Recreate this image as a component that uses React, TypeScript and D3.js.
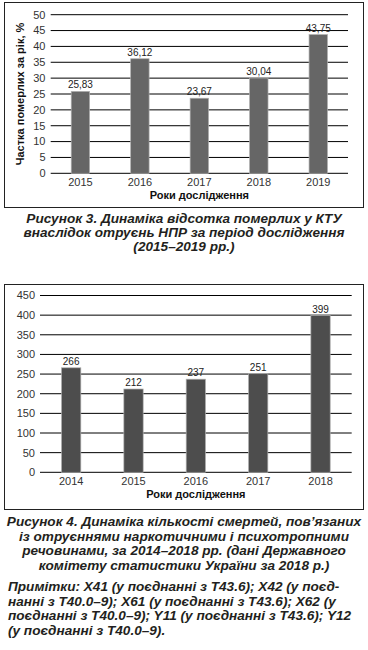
import React from "react";
import * as d3 from "d3";

// Рисунок 3
const years1 = ["2015", "2016", "2017", "2018", "2019"];
const share1 = [25.83, 36.12, 23.67, 30.04, 43.75];
const labels1 = ["25,83", "36,12", "23,67", "30,04", "43,75"];
const ticks1 = [0, 5, 10, 15, 20, 25, 30, 35, 40, 45, 50];

// Рисунок 4
const years2 = ["2014", "2015", "2016", "2017", "2018"];
const deaths2 = [266, 212, 237, 251, 399];
const ticks2 = [0, 50, 100, 150, 200, 250, 300, 350, 400, 450];

const caption1 = [
  "Рисунок 3. Динаміка відсотка померлих у КТУ",
  "внаслідок отруєнь НПР за період дослідження",
  "(2015–2019 рр.)",
];
const caption2 = [
  "Рисунок 4. Динаміка кількості смертей, пов’язаних",
  "із отруєннями наркотичними і психотропними",
  "речовинами, за 2014–2018 рр. (дані Державного",
  "комітету статистики України за 2018 р.)",
];
const notes = [
  "Примітки: X41 (у поєднанні з T43.6); X42 (у поєд-",
  "нанні з T40.0–9); X61 (у поєднанні з T43.6); X62 (у",
  "поєднанні з T40.0–9); Y11 (у поєднанні з T43.6); Y12",
  "(у поєднанні з T40.0–9).",
];

const FONT = "'Liberation Sans', Arial, sans-serif";
const TEXT = "#231f20";

type ChartProps = {
  cats: string[];
  values: number[];
  labels: string[];
  ticks: number[];
  max: number;
  left: number;
  right: number;
  top: number;
  bottom: number;
  tickX: number;
  barColor: string;
  yTitle?: string;
  yTitleX?: number;
};

const BarChart = (p: ChartProps) => {
  const x = d3
    .scaleBand<string>()
    .domain(p.cats)
    .range([p.left, p.right])
    .paddingInner(0.69)
    .paddingOuter(0.345);
  const y = d3.scaleLinear().domain([0, p.max]).range([p.bottom, p.top]);

  return (
    <g fontFamily={FONT}>
      {p.ticks.map((t) => (
        <g key={t}>
          <line x1={p.left} x2={p.right} y1={y(t)} y2={y(t)} stroke="#000" strokeWidth={1} />
          <text x={p.tickX} y={y(t)} dy="0.35em" textAnchor="end" fontSize={11} fill="#333">
            {t}
          </text>
        </g>
      ))}
      {p.values.map((v, i) => (
        <g key={p.cats[i]}>
          <rect
            x={x(p.cats[i])}
            y={y(v)}
            width={x.bandwidth()}
            height={p.bottom - y(v)}
            fill={p.barColor}
            stroke="#b0b0b0"
            strokeWidth={0.7}
          />
          <text
            x={(x(p.cats[i]) as number) + x.bandwidth() / 2}
            y={y(v) - 3}
            textAnchor="middle"
            fontSize={10}
            fill="#222"
          >
            {p.labels[i]}
          </text>
          <text
            x={(x(p.cats[i]) as number) + x.bandwidth() / 2}
            y={p.bottom + 13}
            textAnchor="middle"
            fontSize={11}
            fill="#333"
          >
            {p.cats[i]}
          </text>
        </g>
      ))}
      <text
        x={(p.left + p.right) / 2}
        y={p.bottom + 25.5}
        textAnchor="middle"
        fontSize={11}
        fontWeight="bold"
        fill="#111"
      >
        Роки дослідження
      </text>
      {p.yTitle && (
        <text
          transform={`translate(${p.yTitleX},${(p.top + p.bottom) / 2}) rotate(-90)`}
          textAnchor="middle"
          dy="0.35em"
          fontSize={11}
          fontWeight="bold"
          fill="#111"
        >
          {p.yTitle}
        </text>
      )}
    </g>
  );
};

const Lines = ({ lines, x, y0, step, anchor }: { lines: string[]; x: number; y0: number; step: number; anchor: string }) => (
  <g fontFamily={FONT} fontSize={13.6} fontWeight="bold" fontStyle="italic" fill={TEXT}>
    {lines.map((l, i) => (
      <text key={i} x={x} y={y0 + i * step} textAnchor={anchor}>
        {l}
      </text>
    ))}
  </g>
);

export default function App() {
  return (
    <svg
      width={368}
      height={650}
      style={{ position: "absolute", left: 0, top: 0, background: "#fff" }}
    >
      <rect x={4.5} y={2.5} width={359} height={205} fill="none" stroke="#222" strokeWidth={1} />
      <BarChart
        cats={years1}
        values={share1}
        labels={labels1}
        ticks={ticks1}
        max={50}
        left={50.7}
        right={348}
        top={14.7}
        bottom={173.3}
        tickX={45.5}
        barColor="#666666"
        yTitle="Частка померлих за рік, %"
        yTitleX={20}
      />
      <Lines lines={caption1} x={184} y0={223} step={14} anchor="middle" />

      <rect x={4.5} y={284.5} width={359} height={225} fill="none" stroke="#222" strokeWidth={1} />
      <BarChart
        cats={years2}
        values={deaths2}
        labels={deaths2.map(String)}
        ticks={ticks2}
        max={450}
        left={40}
        right={351.7}
        top={295.5}
        bottom={472.3}
        tickX={35}
        barColor="#4d4d4d"
      />
      <Lines lines={caption2} x={184} y0={526} step={14.5} anchor="middle" />
      <Lines lines={notes} x={8} y0={591} step={14.5} anchor="start" />
    </svg>
  );
}
